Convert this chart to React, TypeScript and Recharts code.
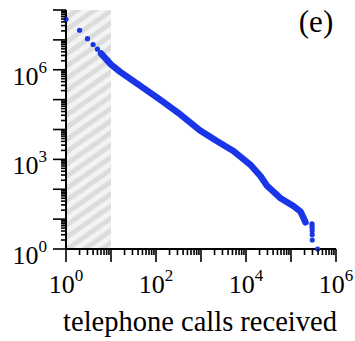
import React from 'react';
import { ComposedChart, XAxis, YAxis, Line, Scatter, ReferenceArea } from 'recharts';

const WIDTH = 355;
const HEIGHT = 341;
const BLUE = '#1a35e8';
const SERIF = '"Liberation Serif", "Times New Roman", serif';

// Isolated points at the low end of the distribution
const headCalls = [1, 2, 3, 4, 5];
const headCounts = [4.9e7, 2.1e7, 1.1e7, 7.0e6, 4.9e6];

// Densely populated middle of the distribution
const bodyCalls = [6, 10, 16, 45, 123, 347, 955, 2240, 5250, 12300, 21000, 29500, 57500, 115000, 162000, 190000, 210000];
const bodyCounts = [3.5e6, 1.5e6, 8.5e5, 2.9e5, 1.0e5, 3.2e4, 9.3e3, 4.1e3, 1.9e3, 676, 275, 129, 51, 27, 18, 11, 7.8];

// Sparse tail
const tailCalls = [293000, 294000, 295000, 295500, 296000, 296500, 390000];
const tailCounts = [7, 6, 5, 4, 3, 2, 1];

// Axis decades and which of them carry a label
const xDecades = [1, 10, 100, 1e3, 1e4, 1e5, 1e6];
const xLabeled = [1, 1e2, 1e4, 1e6];
const yDecades = [1, 10, 100, 1e3, 1e4, 1e5, 1e6, 1e7, 1e8];
const yLabeled = [1, 1e3, 1e6];
const minorSteps = [2, 3, 4, 5, 6, 7, 8, 9];

const withMinors = (decades: number[]) => {
  const out: number[] = [...decades];
  decades.slice(0, -1).forEach((d) => minorSteps.forEach((m) => out.push(m * d)));
  return out.sort((a, b) => a - b);
};

const xTicks = withMinors(xDecades);
const yTicks = withMinors(yDecades);

const toPoints = (xs: number[], ys: number[]) => xs.map((x, i) => ({ x, y: ys[i] }));
const head = toPoints(headCalls, headCounts);
const body = toPoints(bodyCalls, bodyCounts);
const tail = toPoints(tailCalls, tailCounts);

const isDecade = (v: number) => {
  const l = Math.log10(v);
  return Math.abs(l - Math.round(l)) < 1e-9;
};
const hasLabel = (list: number[], v: number) => list.some((t) => Math.abs(t - v) / t < 1e-9);
const exponent = (v: number) => Math.round(Math.log10(v));

const XTick = (props: any) => {
  const { x, y, payload } = props;
  const v = payload.value;
  const len = isDecade(v) ? 13 : 6;
  return (
    <g>
      <line x1={x} x2={x} y1={y} y2={y + len} stroke="#000" strokeWidth={1.6} />
      {hasLabel(xLabeled, v) && (
        <text x={x} y={y + 44} textAnchor="middle" fontFamily={SERIF} fontSize={26} fill="#000">
          10
          <tspan dy={-12} fontSize={17}>
            {exponent(v)}
          </tspan>
        </text>
      )}
    </g>
  );
};

const YTick = (props: any) => {
  const { x, y, payload } = props;
  const v = payload.value;
  const len = isDecade(v) ? 13 : 5;
  return (
    <g>
      <line x1={x - len} x2={x} y1={y} y2={y} stroke="#000" strokeWidth={1.6} />
      {hasLabel(yLabeled, v) && (
        <text x={x - 19} y={y + 15} textAnchor="end" fontFamily={SERIF} fontSize={26} fill="#000">
          10
          <tspan dy={-12} fontSize={17}>
            {exponent(v)}
          </tspan>
        </text>
      )}
    </g>
  );
};

const Dot = (props: any) => <circle cx={props.cx} cy={props.cy} r={2.6} fill={BLUE} />;

export default function App() {
  return (
    <div style={{ position: 'absolute', left: 0, top: 0, background: '#fff' }}>
      <ComposedChart width={WIDTH} height={HEIGHT} margin={{ top: 10, right: 19, bottom: 62, left: 6 }}>
        <defs>
          <pattern id="hatch" width="10" height="10" patternUnits="userSpaceOnUse" patternTransform="rotate(55)">
            <rect x="0" y="0" width="10" height="10" fill="#f3f3f3" />
            <rect x="0" y="0" width="5" height="10" fill="#dcdcdc" />
          </pattern>
        </defs>
        <XAxis
          type="number"
          dataKey="x"
          scale="log"
          domain={[1, 1e6]}
          ticks={xTicks}
          interval={0}
          tick={<XTick />}
          tickLine={false}
          tickSize={0}
          tickMargin={0}
          height={30}
          axisLine={{ stroke: '#000', strokeWidth: 2 }}
        />
        <YAxis
          type="number"
          dataKey="y"
          scale="log"
          domain={[1, 1e8]}
          ticks={yTicks}
          interval={0}
          tick={<YTick />}
          tickLine={false}
          tickSize={0}
          tickMargin={0}
          width={60}
          axisLine={{ stroke: '#000', strokeWidth: 2 }}
        />
        <ReferenceArea x1={1} x2={10} y1={1} y2={1e8} fill="url(#hatch)" fillOpacity={1} stroke="none" />
        <Line
          data={body}
          dataKey="y"
          type="linear"
          stroke={BLUE}
          strokeWidth={6.5}
          strokeLinecap="round"
          strokeLinejoin="round"
          dot={false}
          isAnimationActive={false}
        />
        <Scatter data={head} dataKey="y" shape={<Dot />} isAnimationActive={false} zIndex={1000} />
        <Scatter data={tail} dataKey="y" shape={<Dot />} isAnimationActive={false} zIndex={1000} />
        <text x={316} y={32} textAnchor="middle" fontFamily={SERIF} fontSize={31} fill="#000">
          (e)
        </text>
        <text x={200} y={331} textAnchor="middle" fontFamily={SERIF} fontSize={28.5} fill="#000">
          telephone calls received
        </text>
      </ComposedChart>
    </div>
  );
}
